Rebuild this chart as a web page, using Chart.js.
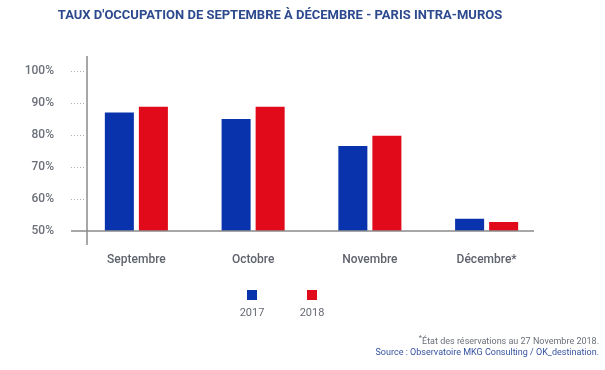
<!DOCTYPE html>
<html>
<head>
<meta charset="utf-8">
<script src="https://cdn.jsdelivr.net/npm/chart.js@4"></script>
<style>
  body { margin: 0; background: #fff; font-family: Roboto, sans-serif; }
  #wrap { position: relative; width: 605px; height: 370px; }
  #title { position: absolute; left: 0; width: 560px; top: 7px; text-align: center;
           font-weight: bold; font-size: 13px; color: #2d4a8f; white-space: nowrap; }
  .leg { position: absolute; top: 290px; width: 40px; text-align: center; font-size: 11px; color: #666a72; }
  .leg span { display: block; width: 10px; height: 10px; margin: 0 auto 6px; }
  .note { position: absolute; right: 6px; font-size: 9px; white-space: nowrap; }
</style>
</head>
<body>
<div id="wrap">
  <div id="title">TAUX D'OCCUPATION DE SEPTEMBRE À DÉCEMBRE - PARIS INTRA-MUROS</div>
  <canvas id="chart" width="605" height="370"></canvas>
  <div id="legend"></div>
  <div class="note" style="top:333px;color:#6b6f78;"><sup>*</sup>État des réservations au 27 Novembre 2018.</div>
  <div class="note" style="top:347px;color:#3553a0;">Source : Observatoire MKG Consulting / OK_destination.</div>
</div>
<script>
const mois = ['Septembre', 'Octobre', 'Novembre', 'Décembre*'];
const taux2017 = [87, 85, 76.6, 53.8];
const taux2018 = [88.8, 88.8, 79.8, 52.8];
const annees = ['2017', '2018'];
const couleurs = ['#0833ad', '#e10a1a'];
const ticksY = [50, 60, 70, 80, 90, 100];

// axes dessinés à la main (trait vertical décalé + petits pointillés)
const axes = {
  id: 'axes',
  afterDraw(chart) {
    const c = chart.ctx, a = chart.chartArea, y = chart.scales.y;
    const x0 = a.left + 9;
    c.save();
    c.strokeStyle = '#8a8a8a';
    c.lineWidth = 1.5;
    c.beginPath();
    c.moveTo(x0, a.top - 15); c.lineTo(x0, a.bottom + 14);
    c.moveTo(a.left - 7, a.bottom); c.lineTo(a.right - 11, a.bottom);
    c.stroke();
    c.strokeStyle = '#b0b0b0';
    c.lineWidth = 1;
    c.setLineDash([1, 2]);
    ticksY.slice(1).forEach(v => {
      const py = Math.round(y.getPixelForValue(v)) + 0.5;
      c.beginPath(); c.moveTo(a.left - 7, py); c.lineTo(x0 - 1, py); c.stroke();
    });
    c.restore();
  }
};

new Chart(document.getElementById('chart'), {
  type: 'bar',
  data: {
    labels: mois,
    datasets: [
      { label: annees[0], data: taux2017, backgroundColor: couleurs[0] },
      { label: annees[1], data: taux2018, backgroundColor: couleurs[1] }
    ]
  },
  options: {
    responsive: false,
    animation: false,
    layout: { padding: { left: 8, right: 60, top: 71, bottom: 99 } },
    categoryPercentage: 0.583,
    barPercentage: 0.853,
    plugins: { legend: { display: false }, tooltip: { enabled: false } },
    scales: {
      x: {
        grid: { display: false },
        border: { display: false },
        ticks: { padding: 14, color: '#5f636c', font: { family: 'Roboto', size: 12, weight: '500' } },
        afterFit(s) { s.height = 40; }
      },
      y: {
        min: 50, max: 100,
        grid: { display: false },
        border: { display: false },
        afterBuildTicks(s) { s.ticks = ticksY.map(v => ({ value: v })); },
        ticks: {
          padding: 16, color: '#6b6f78',
          font: { family: 'Roboto', size: 12, weight: '500' },
          callback: v => v + '%'
        },
        afterFit(s) { s.width = 70; }
      }
    }
  },
  plugins: [axes]
});

// légende maison : carré au-dessus de l'année
const leg = document.getElementById('legend');
[232, 292].forEach((x, i) => {
  leg.innerHTML += `<div class="leg" style="left:${x}px"><span style="background:${couleurs[i]}"></span>${annees[i]}</div>`;
});
</script>
</body>
</html>
